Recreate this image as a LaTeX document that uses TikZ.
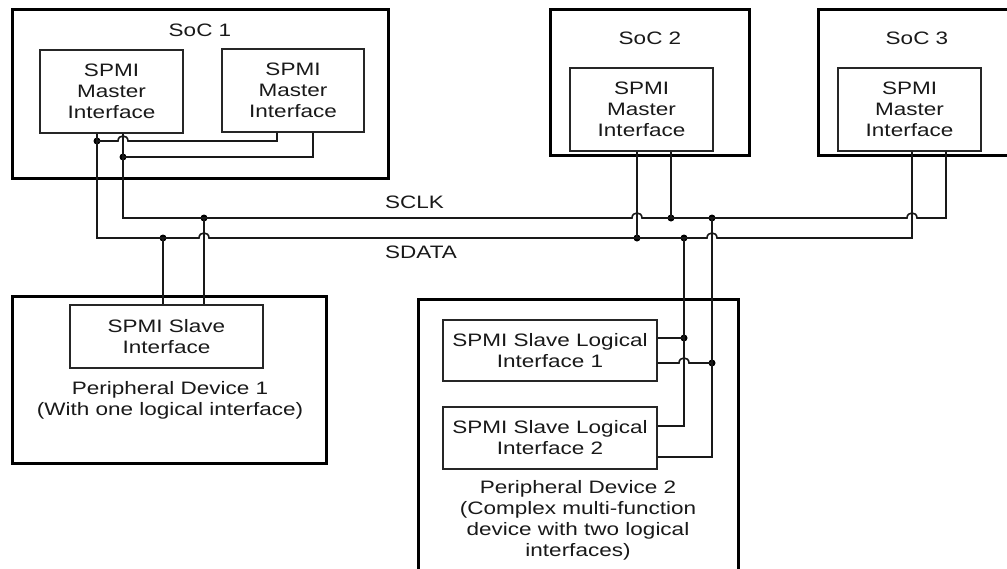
\documentclass[tikz,border=0pt]{standalone}
\usepackage{fontspec}
\setmainfont{Liberation Sans}[FakeStretch=1.25]
\begin{document}
\begin{tikzpicture}[x=1pt,y=-1pt,
  outer/.style={draw=black,line width=3pt,inner sep=0pt},
  inbox/.style={draw=black!85,line width=1.3pt,inner sep=0pt,align=center,text=black!90,font=\fontsize{18}{21}\selectfont},
  lbl/.style={inner sep=0pt,align=center,text=black!90,font=\fontsize{18}{21}\selectfont},
  wire/.style={line width=1.6pt,draw=black!90},
  dot/.style={circle,fill=black,inner sep=0pt,minimum size=7pt},
  hopover/.style={to path={-- ([xshift=-5pt]\tikztotarget) .. controls ([xshift=-5pt,yshift=6.7pt]\tikztotarget) and ([xshift=5pt,yshift=6.7pt]\tikztotarget) .. ([xshift=5pt]\tikztotarget)}}]
\useasboundingbox (0,0) rectangle (1007,568);
\fill[white] (0,0) rectangle (1007,568);
\clip (0,0) rectangle (1007,568);

% SoC 1
\node[outer,minimum width=376pt,minimum height=169pt] (soc1) at (200,93.5) {};
\node[lbl] (soc1t) at (200,30) {SoC 1};
\node[inbox,minimum width=143pt,minimum height=83pt] (m11) at (111.5,91.5) {SPMI\\Master\\Interface};
\node[inbox,minimum width=142pt,minimum height=83pt] (m12) at (293,90.5) {SPMI\\Master\\Interface};
% SoC 2
\node[outer,minimum width=199pt,minimum height=146pt] (soc2) at (649.5,82) {};
\node[lbl] (soc2t) at (650,38) {SoC 2};
\node[inbox,minimum width=143pt,minimum height=83pt] (m2) at (641.5,109.5) {SPMI\\Master\\Interface};
% SoC 3
\node[outer,minimum width=212pt,minimum height=146pt] (soc3) at (924,82) {};
\node[lbl] (soc3t) at (917,38) {SoC 3};
\node[inbox,minimum width=143pt,minimum height=83pt] (m3) at (909.5,109.5) {SPMI\\Master\\Interface};
% Peripheral 1
\node[outer,minimum width=314pt,minimum height=167pt] (p1) at (169,379.5) {};
\node[inbox,minimum width=193pt,minimum height=63pt] (s1) at (166.5,336.5) {SPMI Slave\\Interface};
\node[lbl] (p1t) at (170,400) {Peripheral Device 1\\(With one logical interface)};
% Peripheral 2
\node[outer,minimum width=320pt,minimum height=291pt] (p2) at (578,444.5) {};
\node[inbox,minimum width=214pt,minimum height=61pt] (l1) at (550,350.5) {SPMI Slave Logical\\Interface 1};
\node[inbox,minimum width=214pt,minimum height=62pt] (l2) at (550,438) {SPMI Slave Logical\\Interface 2};
\node[lbl] (p2t) at (578,520) {Peripheral Device 2\\(Complex multi-function\\device with two logical\\interfaces)};
% bus labels
\node[lbl,anchor=west] (sclkt) at (385,202) {SCLK};
\node[lbl,anchor=west] (sdatat) at (385,252) {SDATA};

% junction dots
\node[dot] (d1) at (97,141) {};
\node[dot] (d2) at (123,157) {};
\node[dot] (d3) at (204,218) {};
\node[dot] (d4) at (163,238) {};
\node[dot] (d5) at (671,218) {};
\node[dot] (d6) at (712,218) {};
\node[dot] (d7) at (637,238) {};
\node[dot] (d8) at (684,238) {};
\node[dot] (d9) at (684,338) {};
\node[dot] (d10) at (712,363) {};

% hop centres and corners
\coordinate (h1) at (123,141);
\coordinate (h2) at (204,238);
\coordinate (h3) at (712,238);
\coordinate (h4) at (637,218);
\coordinate (h5) at (912,218);
\coordinate (h6) at (684,363);
\coordinate (sdL) at (97,238);
\coordinate (scL) at (123,218);
\coordinate (sdR) at (912,238);
\coordinate (scR) at (946,218);
\coordinate (k1) at (277,141);
\coordinate (k2) at (313,157);
\coordinate (k3) at (684,426);
\coordinate (k4) at (712,457);

% SDATA bus
\draw[wire] (m11.south -| d1) -- (sdL) to[hopover] (h2) to[hopover] (h3) -- (sdR) -- (m3.south -| sdR);
% SCLK bus
\draw[wire] (m11.south -| d2) -- (scL) to[hopover] (h4) to[hopover] (h5) -- (scR) -- (m3.south -| scR);
% SoC 1 second master
\draw[wire] (d1.center) to[hopover] (h1) -- (k1) -- (m12.south -| k1);
\draw[wire] (d2.center) -- (k2) -- (m12.south -| k2);
% Peripheral 1
\draw[wire] (d4.center) -- (s1.north -| d4);
\draw[wire] (d3.center) -- (s1.north -| d3);
% SoC 2
\draw[wire] (m2.south -| d7) -- (d7.center);
\draw[wire] (m2.south -| d5) -- (d5.center);
% Peripheral 2
\draw[wire] (d8.center) -- (k3) -- (l2.east |- k3);
\draw[wire] (d6.center) -- (k4) -- (l2.east |- k4);
\draw[wire] (l1.east |- d9) -- (d9.center);
\draw[wire] (l1.east |- d10) to[hopover] (h6) -- (d10.center);
\end{tikzpicture}
\end{document}
